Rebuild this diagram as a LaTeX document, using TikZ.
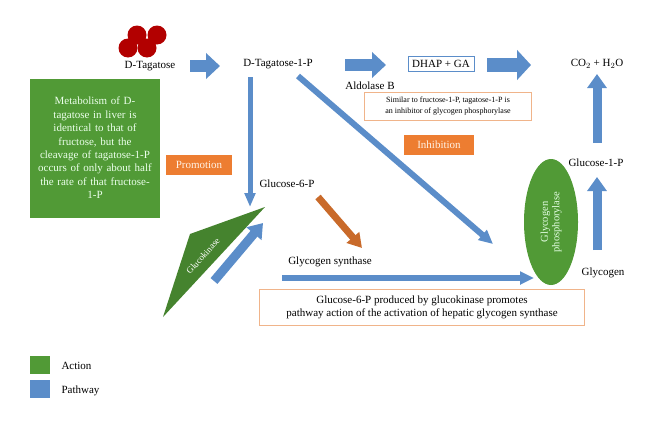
\documentclass[tikz,border=0pt]{standalone}
\usepackage{fontspec}
\setmainfont{Liberation Serif}
\usetikzlibrary{arrows.meta,shapes.geometric}
\definecolor{pathblue}{HTML}{5B8DC9}
\definecolor{actgreen}{HTML}{519A36}
\definecolor{promorange}{HTML}{ED7D31}
\definecolor{boxorange}{HTML}{F0B48A}
\tikzset{
  lbl/.style={font=\fontsize{11}{13}\selectfont},
  path/.style={draw=pathblue, line width=#1, -{Triangle[length=14pt,width=2.1*#1]}},
  path/.default=12pt,
  tag/.style={fill=promorange, text=white!90!orange, font=\fontsize{11}{13}\selectfont, minimum height=20pt, inner xsep=5pt},
  note/.style={draw=boxorange, line width=1pt, align=center, fill=white},
}
\begin{document}
\begin{tikzpicture}[x=1pt,y=-1pt]
\useasboundingbox (0,0) rectangle (660,431);
% sugar beads
\foreach \cx/\cy in {137/35,157/35,128/48,147/48}
  \fill[red!70!black] (\cx,\cy) circle[radius=9.5];
% metabolites
\node[lbl] (tag) at (150,66) {D-Tagatose};
\node[lbl] (tagp) at (278,64) {D-Tagatose-1-P};
\node[lbl, draw=pathblue, inner sep=4pt] (dhap) at (441,64) {DHAP + GA};
\node[lbl] (co2) at (597,64) {CO$_2$ + H$_2$O};
\node[lbl] (aldo) at (370,86) {Aldolase B};
\node[lbl] (g6p) at (287,184) {Glucose-6-P};
\node[lbl] (gsyn) at (330,262) {Glycogen synthase};
\node[lbl] (g1p) at (596,163) {Glucose-1-P};
\node[lbl] (glyc) at (603,273) {Glycogen};
% notes
\node[note, font=\fontsize{8}{10.5}\selectfont, minimum width=167pt, minimum height=28pt] (inh) at (448,106)
  {Similar to fructose-1-P, tagatose-1-P is\\ an inhibitor of glycogen phosphorylase};
\node[fill=actgreen, text=white!92!green, align=center, minimum width=130pt, minimum height=139pt,
  text width=124pt, font=\fontsize{11}{13.4}\selectfont] (meta) at (95,148)
  {Metabolism of D-\\tagatose in liver is\\ identical to that of\\ fructose, but the\\ cleavage of tagatose-1-P\\ occurs of only about half\\ the rate of that fructose-\\1-P};
\node[tag, minimum width=66pt] (promo) at (199,165) {Promotion};
\node[tag, minimum width=70pt] (inhib) at (439,145) {Inhibition};
\node[note, lbl, minimum width=325pt, minimum height=36pt] (gnote) at (422,307)
  {Glucose-6-P produced by glucokinase promotes\\ pathway action of the activation of hepatic glycogen synthase};
% enzymes
\fill[actgreen!85!black] (265,207) -- (190,234) -- (163,317) -- cycle;
\node[rotate=48, text=white, font=\fontsize{9}{11}\selectfont, inner sep=1pt] (gk) at (203,256) {Glucokinase};
\node[ellipse, fill=actgreen, minimum width=54pt, minimum height=126pt, inner sep=0pt] (gp) at (551,222) {};
\node[rotate=90, text=white!90!green, align=center, font=\fontsize{10.5}{11.5}\selectfont] at (gp) {Glycogen\\ phosphorylase};
% connectors
\coordinate (a1) at (190,66); \coordinate (a2) at (220,66);
\coordinate (b1) at (345,65); \coordinate (b2) at (386,65);
\coordinate (c1) at (487,65); \coordinate (c2) at (531,65);
\coordinate (d1) at (250,77); \coordinate (d2) at (250,207);
\coordinate (e1) at (298,76); \coordinate (e2) at (493,244);
\coordinate (f1) at (214,281); \coordinate (f2) at (263,223);
\coordinate (h1) at (282,278); \coordinate (h2) at (534,278);
\coordinate (u1) at (597,250); \coordinate (u2) at (597,177);
\coordinate (v1) at (597,143); \coordinate (v2) at (597,74);
\draw[path] (a1) -- (a2);
\draw[path] (b1) -- (b2);
\draw[path=14pt] (c1) -- (c2);
\draw[path=5pt] (d1) -- (d2);
\draw[path=6pt] (e1) -- (e2);
\draw[path=9pt] (f1) -- (f2);
\draw[path=6pt] (h1) -- (h2);
\draw[path=9pt] (u1) -- (u2);
\draw[path=9pt] (v1) -- (v2);
\coordinate (o1) at (318,197); \coordinate (o2) at (362,248);
\draw[draw=promorange!85!black, line width=7pt, -{Triangle[length=14pt,width=16pt]}] (o1) -- (o2);
% legend
\fill[actgreen] (30,356) rectangle (50,374);
\node[lbl, anchor=west] (lact) at (58,366) {Action};
\fill[pathblue] (30,380) rectangle (50,398);
\node[lbl, anchor=west] (lpath) at (58,391) {Pathway};
\end{tikzpicture}
\end{document}
